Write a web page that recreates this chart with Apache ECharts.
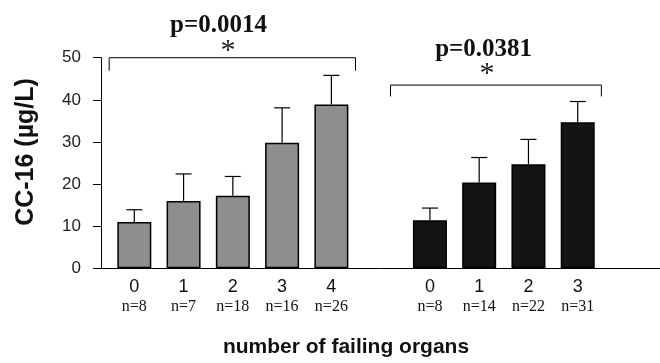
<!DOCTYPE html>
<html>
<head>
<meta charset="utf-8">
<script src="https://cdn.jsdelivr.net/npm/echarts@6/dist/echarts.min.js"></script>
<style>html,body{margin:0;padding:0;background:#fff}#c{width:660px;height:363px}</style>
</head>
<body>
<div id="c"></div>
<script>
// ---- data ----
const groupACategories = ['0', '1', '2', '3', '4'];
const groupAN = ['n=8', 'n=7', 'n=18', 'n=16', 'n=26'];
const groupAMean = [11.0, 16.0, 17.2, 29.8, 38.9];
const groupAUpper = [13.9, 22.4, 21.8, 38.1, 45.8];

const groupBCategories = ['0', '1', '2', '3'];
const groupBN = ['n=8', 'n=14', 'n=22', 'n=31'];
const groupBMean = [11.4, 20.4, 24.7, 34.7];
const groupBUpper = [14.3, 26.3, 30.6, 39.6];

const yTicks = [0, 10, 20, 30, 40, 50];
const yAxisTitle = 'CC-16 (µg/L)';
const xAxisTitle = 'number of failing organs';

// significance annotations (slot units / value units)
const bracketStart = [-0.51, 5.2];
const bracketEnd = [4.49, 9.48];
const bracketTop = [50, 43.5];
const bracketDrop = [46.9, 40.8];
const pLabels = ['p=0.0014', 'p=0.0381'];
const pLabelX = [1.71, 7.09];
const pLabelY = [57.6, 52.0];
const starX = [1.90, 7.16];
const starY = [51.6, 46.1];

// ---- layout of slots: group A at 0..4, one empty slot, group B after ----
const groupBOffset = groupACategories.length + 1;
const slotsA = groupACategories.map((_, i) => i);
const slotsB = groupBCategories.map((_, i) => i + groupBOffset);

const labelMap = {};
slotsA.forEach((s, i) => labelMap[s] = '{a|' + groupACategories[i] + '}\n{b|' + groupAN[i] + '}');
slotsB.forEach((s, i) => labelMap[s] = '{a|' + groupBCategories[i] + '}\n{b|' + groupBN[i] + '}');

const barData = [];
slotsA.forEach((s, i) => barData.push({ value: [s, groupAMean[i]], itemStyle: { color: '#8e8e8e' } }));
slotsB.forEach((s, i) => barData.push({ value: [s, groupBMean[i]], itemStyle: { color: '#141414' } }));

const errData = [];
slotsA.forEach((s, i) => errData.push([s, groupAMean[i], groupAUpper[i]]));
slotsB.forEach((s, i) => errData.push([s, groupBMean[i], groupBUpper[i]]));

const annData = pLabels.map((p, i) => [bracketStart[i], bracketEnd[i], bracketTop[i], bracketDrop[i], pLabelX[i], pLabelY[i], starX[i], starY[i], i]);

const chart = echarts.init(document.getElementById('c'), null, { renderer: 'canvas' });

chart.setOption({
  animation: false,
  backgroundColor: '#fff',
  grid: { left: 101, right: 0, top: 57.7, bottom: 94.7 },
  xAxis: {
    type: 'value',
    min: -0.676,
    max: 10.67,
    splitLine: { show: false },
    axisLine: { show: true, onZero: false, lineStyle: { color: '#000', width: 1 } },
    axisTick: { show: false },
    axisLabel: {
      show: true,
      customValues: slotsA.concat(slotsB),
      margin: 9,
      formatter: v => labelMap[v] || '',
      rich: {
        a: { fontFamily: 'Liberation Sans', fontSize: 18, color: '#111', lineHeight: 20 },
        b: { fontFamily: 'Liberation Serif', fontSize: 16, color: '#111', lineHeight: 18 }
      }
    }
  },
  yAxis: {
    type: 'value',
    min: yTicks[0],
    max: yTicks[yTicks.length - 1],
    interval: yTicks[1] - yTicks[0],
    splitLine: { show: false },
    axisLine: { show: true, onZero: false, lineStyle: { color: '#000', width: 1 } },
    axisTick: { show: true, length: 8, lineStyle: { color: '#000' } },
    axisLabel: { margin: 20, fontFamily: 'Liberation Sans', fontSize: 17, color: '#222' }
  },
  series: [
    {
      type: 'bar',
      barWidth: 34,
      data: barData,
      itemStyle: { borderColor: '#000', borderWidth: 1.5 },
      z: 2
    },
    {
      type: 'custom',
      data: errData,
      z: 3,
      renderItem: (params, api) => {
        const x = api.value(0);
        const base = api.coord([x, api.value(1)]);
        const top = api.coord([x, api.value(2)]);
        const hw = 8;
        return {
          type: 'group',
          children: [
            { type: 'line', shape: { x1: base[0], y1: base[1], x2: top[0], y2: top[1] }, style: { stroke: '#000', lineWidth: 1.2 } },
            { type: 'line', shape: { x1: top[0] - hw, y1: top[1], x2: top[0] + hw, y2: top[1] }, style: { stroke: '#000', lineWidth: 1.2 } }
          ]
        };
      }
    },
    {
      type: 'custom',
      data: annData,
      clip: false,
      z: 4,
      renderItem: (params, api) => {
        const x0 = api.value(0), x1 = api.value(1), yt = api.value(2), yd = api.value(3);
        const i = api.value(8);
        const a = api.coord([x0, yt]);
        const b = api.coord([x1, yt]);
        const ad = api.coord([x0, yd]);
        const bd = api.coord([x1, yd]);
        const p = api.coord([api.value(4), api.value(5)]);
        const s = api.coord([api.value(6), api.value(7)]);
        return {
          type: 'group',
          children: [
            { type: 'polyline', shape: { points: [ad, a, b, bd] }, style: { stroke: '#000', lineWidth: 1, fill: null } },
            { type: 'text', x: p[0], y: p[1], style: { text: pLabels[i], font: 'bold 25px "Liberation Serif"', fill: '#111', align: 'center', verticalAlign: 'middle' } },
            { type: 'text', x: s[0], y: s[1], style: { text: '*', font: '30px "Liberation Serif"', fill: '#222', align: 'center', verticalAlign: 'middle' } }
          ]
        };
      }
    }
  ],
  graphic: [
    { type: 'text', x: 26, y: 152, rotation: Math.PI / 2, style: { text: yAxisTitle, font: 'bold 25px "Liberation Sans"', fill: '#111', align: 'center', verticalAlign: 'middle' } },
    { type: 'text', x: 346, y: 347, style: { text: xAxisTitle, font: 'bold 21px "Liberation Sans"', fill: '#111', align: 'center', verticalAlign: 'middle' } }
  ]
});
</script>
</body>
</html>
